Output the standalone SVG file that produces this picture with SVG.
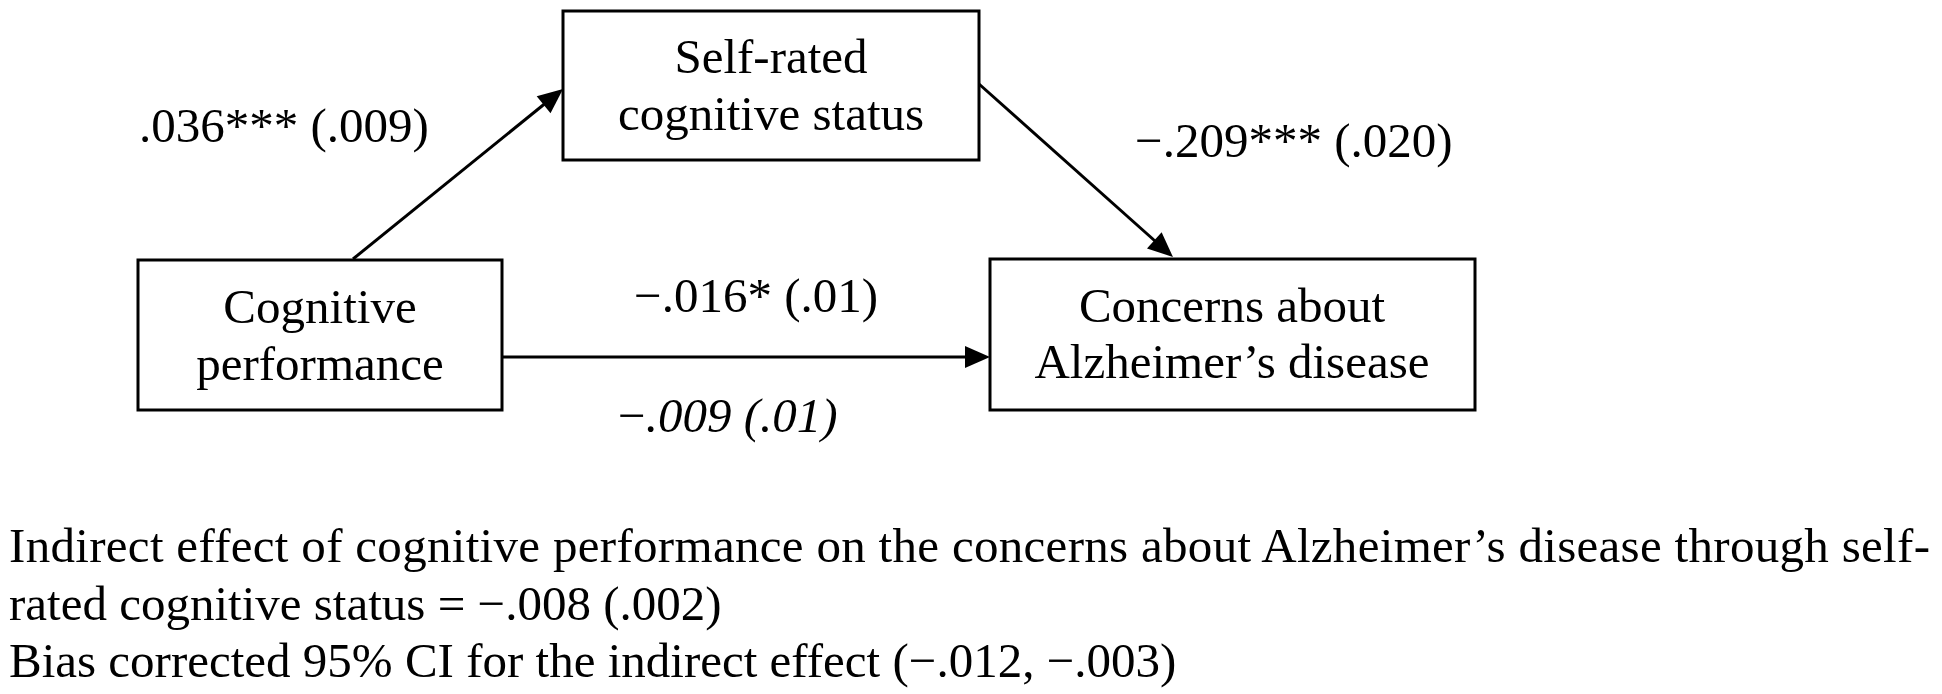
<svg xmlns="http://www.w3.org/2000/svg" width="1942" height="694" viewBox="0 0 1942 694">
<style>
text{font-family:"Liberation Serif","Times New Roman",serif;font-size:49px;fill:#000}
.box{fill:#fff;stroke:#000;stroke-width:3}
.edge{stroke:#000;stroke-width:3;fill:none;marker-end:url(#ah)}
.c{text-anchor:middle}
.it{font-style:italic}
</style>
<defs>
<marker id="ah" markerUnits="userSpaceOnUse" markerWidth="25" markerHeight="22" refX="13" refY="11" orient="auto" overflow="visible">
<path d="M0,0 L25,11 L0,22 z" fill="#000"/>
</marker>
</defs>
<rect width="1942" height="694" fill="#fff"/>
<g id="connectors">
<line class="edge" x1="353" y1="259" x2="553.7" y2="96.5"/>
<line class="edge" x1="979" y1="84" x2="1164" y2="249"/>
<line class="edge" x1="502" y1="357" x2="978" y2="357"/>
<text x="139" y="142">.036*** (.009)</text>
<text x="1135" y="157">−.209*** (.020)</text>
<text x="634" y="312">−.016* (.01)</text>
<text x="618" y="432"><tspan>−</tspan><tspan class="it">.009 (.01)</tspan></text>
</g>
<g id="node-self-rated">
<rect class="box" x="563" y="11" width="416" height="149"/>
<text class="c" x="771" y="73">Self-rated</text>
<text class="c" x="771" y="130">cognitive status</text>
</g>
<g id="node-cognitive">
<rect class="box" x="138" y="260" width="364" height="150"/>
<text class="c" x="320" y="323">Cognitive</text>
<text class="c" x="320" y="380">performance</text>
</g>
<g id="node-concerns">
<rect class="box" x="990" y="259" width="485" height="151"/>
<text class="c" x="1232" y="322">Concerns about</text>
<text class="c" x="1232" y="378">Alzheimer’s disease</text>
</g>
<g id="note">
<text x="9" y="562" textLength="1921" lengthAdjust="spacing">Indirect effect of cognitive performance on the concerns about Alzheimer’s disease through self-</text>
<text x="9" y="620">rated cognitive status = −.008 (.002)</text>
<text x="9" y="677">Bias corrected 95% CI for the indirect effect (−.012, −.003)</text>
</g>
</svg>
